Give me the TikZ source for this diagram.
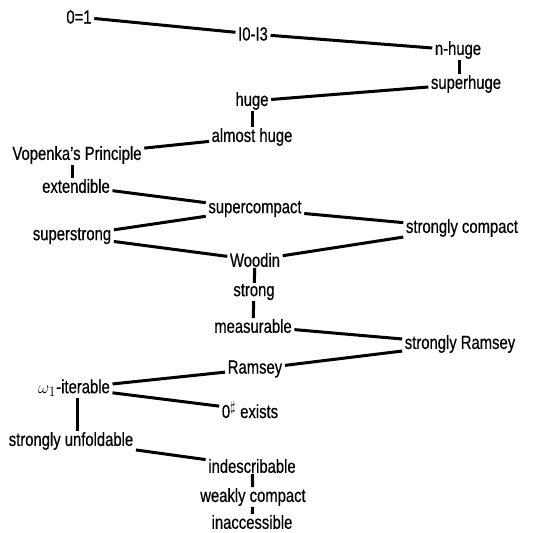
\documentclass[tikz,border=0pt]{standalone}
\usepackage{amsmath}
\usepackage{amssymb}
\usepackage{fontspec}
\setmainfont{Liberation Sans}[FakeStretch=0.78,FakeBold=0.5]

\begin{document}
\begin{tikzpicture}[x=1pt,y=-1pt,
        card/.style={inner xsep=2.5pt, inner ysep=0.8pt, font=\fontsize{19}{21}\selectfont},
        imp/.style={line width=3pt}]
        \useasboundingbox (0,0) rectangle (537,532);
        \node[card] (zeroone) at (79,17){0=1};
        \node[card] (izero) at (253,34){I0-I3};
        \node[card] (nhuge) at (458,50){n-huge};
        \node[card] (superhuge) at (466,84){superhuge};
        \node[card] (huge) at (252,101){huge};
        \node[card] (almosthuge) at (252,137){almost huge};
        \node[card] (vopenka) at (77,155){Vopenka's Principle};
        \node[card] (extendible) at (76,186){extendible};
        \node[card] (supercompact) at (255,209){supercompact};
        \node[card] (stronglycompact) at (462,228){strongly compact};
        \node[card] (superstrong) at (72,236){superstrong};
        \node[card] (woodin) at (255,260){Woodin};
        \node[card] (strong) at (254,292){strong};
        \node[card] (measurable) at (253,326){measurable};
        \node[card] (stronglyramsey) at (460,344){strongly Ramsey};
        \node[card] (ramsey) at (255,369){Ramsey};
        \node[card] (iterable) at (74,388){$\omega_1$-iterable};
        \node[card] (zerosharp) at (250,410){0$^\sharp$ exists};
        \node[card] (unfoldable) at (71,441){strongly unfoldable};
        \node[card] (indescribable) at (252,466){indescribable};
        \node[card] (weaklycompact) at (253,497){weakly compact};
        \node[card] (inaccessible) at (252,522){inaccessible};
        \draw[imp] (zeroone) -- (izero);
        \draw[imp] (izero) -- (nhuge);
        \draw[imp] (nhuge.south -| 459,0) -- (superhuge.north -| 459,0);
        \draw[imp] (superhuge) -- (huge);
        \draw[imp] (huge) -- (almosthuge);
        \draw[imp] (almosthuge) -- (vopenka);
        \draw[imp] (vopenka.south -| 72,0) -- (extendible.north -| 72,0);
        \draw[imp] (extendible) -- (supercompact);
        \draw[imp] (supercompact) -- (stronglycompact);
        \draw[imp] (superstrong) -- (supercompact);
        \draw[imp] (superstrong) -- (woodin);
        \draw[imp] (woodin) -- (stronglycompact);
        \draw[imp] (woodin) -- (strong);
        \draw[imp] (strong) -- (measurable);
        \draw[imp] (measurable) -- (stronglyramsey);
        \draw[imp] (stronglyramsey) -- (ramsey);
        \draw[imp] (ramsey) -- (iterable);
        \draw[imp] (iterable) -- (zerosharp);
        \draw[imp] (iterable.south -| 77,0) -- (unfoldable.north -| 77,0);
        \draw[imp] (unfoldable) -- (indescribable);
        \draw[imp] (indescribable) -- (weaklycompact);
        \draw[imp] (weaklycompact) -- (inaccessible);
    \end{tikzpicture}
\end{document}
